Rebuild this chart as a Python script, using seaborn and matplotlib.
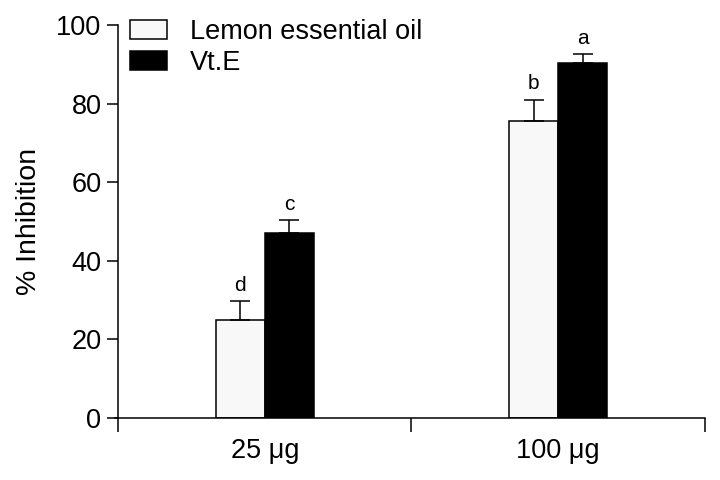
import numpy as np
import pandas as pd
import seaborn as sns
import matplotlib
matplotlib.use("Agg")
import matplotlib.pyplot as plt

# ── data ─────────────────────────────────────────────────────────────────
doses = ["25 \u03bcg", "100 \u03bcg"]
series = ["Lemon essential oil", "Vt.E"]
lemon_mean = [25.0, 75.6]
lemon_err = [4.8, 5.4]
vte_mean = [47.1, 90.3]
vte_err = [3.2, 2.2]
lemon_letters = ["d", "b"]
vte_letters = ["c", "a"]

df = pd.DataFrame({
    "Dose": doses * 2,
    "Group": [series[0]] * 2 + [series[1]] * 2,
    "Inhibition": lemon_mean + vte_mean,
})
errs = lemon_err + vte_err
letters = lemon_letters + vte_letters

sns.set_style("ticks", {"axes.edgecolor": "black", "text.color": "black",
                        "axes.labelcolor": "black", "xtick.color": "black",
                        "ytick.color": "black"})
plt.rcParams["font.family"] = ["Liberation Sans", "DejaVu Sans"]

fig = plt.figure(figsize=(7.2, 4.8), dpi=100)
ax = fig.add_axes([0.164, 0.129, 0.815, 0.819])

sns.barplot(data=df, x="Dose", y="Inhibition", hue="Group",
            order=doses, hue_order=series,
            palette=["#f8f8f8", "#000000"], width=0.334,
            edgecolor="black", linewidth=1.1, errorbar=None,
            saturation=1, ax=ax)

# upper error bars and letters (bars come in hue order: lemon, then Vt.E)
for bar, e, lab in zip(ax.patches[:4], errs, letters):
    xc = bar.get_x() + bar.get_width() / 2
    top = bar.get_height()
    ax.errorbar(xc, top, yerr=[[0], [e]], fmt="none", ecolor="black",
                elinewidth=1.1, capsize=7.5, capthick=1.1)
    ax.text(xc, top + e + 1.6, lab, ha="center", va="bottom", fontsize=15,
            color="black")

ax.set_xlim(-0.5, 1.5)
ax.set_ylim(0, 100)
ax.set_yticks(np.arange(0, 101, 20))
ax.set_xticks([-0.5, 0.5, 1.5], minor=True)
ax.tick_params(axis="x", which="major", length=0, labelsize=19.5, pad=14,
               labelcolor="black")
ax.tick_params(axis="x", which="minor", length=10, width=1.1, direction="out",
               color="black")
ax.tick_params(axis="y", length=8, width=1.1, labelsize=19.5, pad=4,
               color="black", labelcolor="black")
ax.set_xlabel("")
ax.set_ylabel("% Inhibition", fontsize=20.5, labelpad=10, color="black")

for side in ["top", "right"]:
    ax.spines[side].set_visible(False)
for side in ["left", "bottom"]:
    ax.spines[side].set_linewidth(1.1)
    ax.spines[side].set_color("black")
ax.spines["bottom"].set_bounds(-0.51, 1.5)

leg = ax.legend(loc="upper left", bbox_to_anchor=(0.02, 1.015), frameon=False,
                fontsize=19.5, handlelength=1.37, handleheight=0.72,
                handletextpad=0.85, labelspacing=0.18, borderpad=0,
                borderaxespad=0)
for h in leg.legend_handles:
    h.set_edgecolor("black")
    h.set_linewidth(1.1)
for t in leg.get_texts():
    t.set_color("black")

fig.savefig("out.png", dpi=100)
